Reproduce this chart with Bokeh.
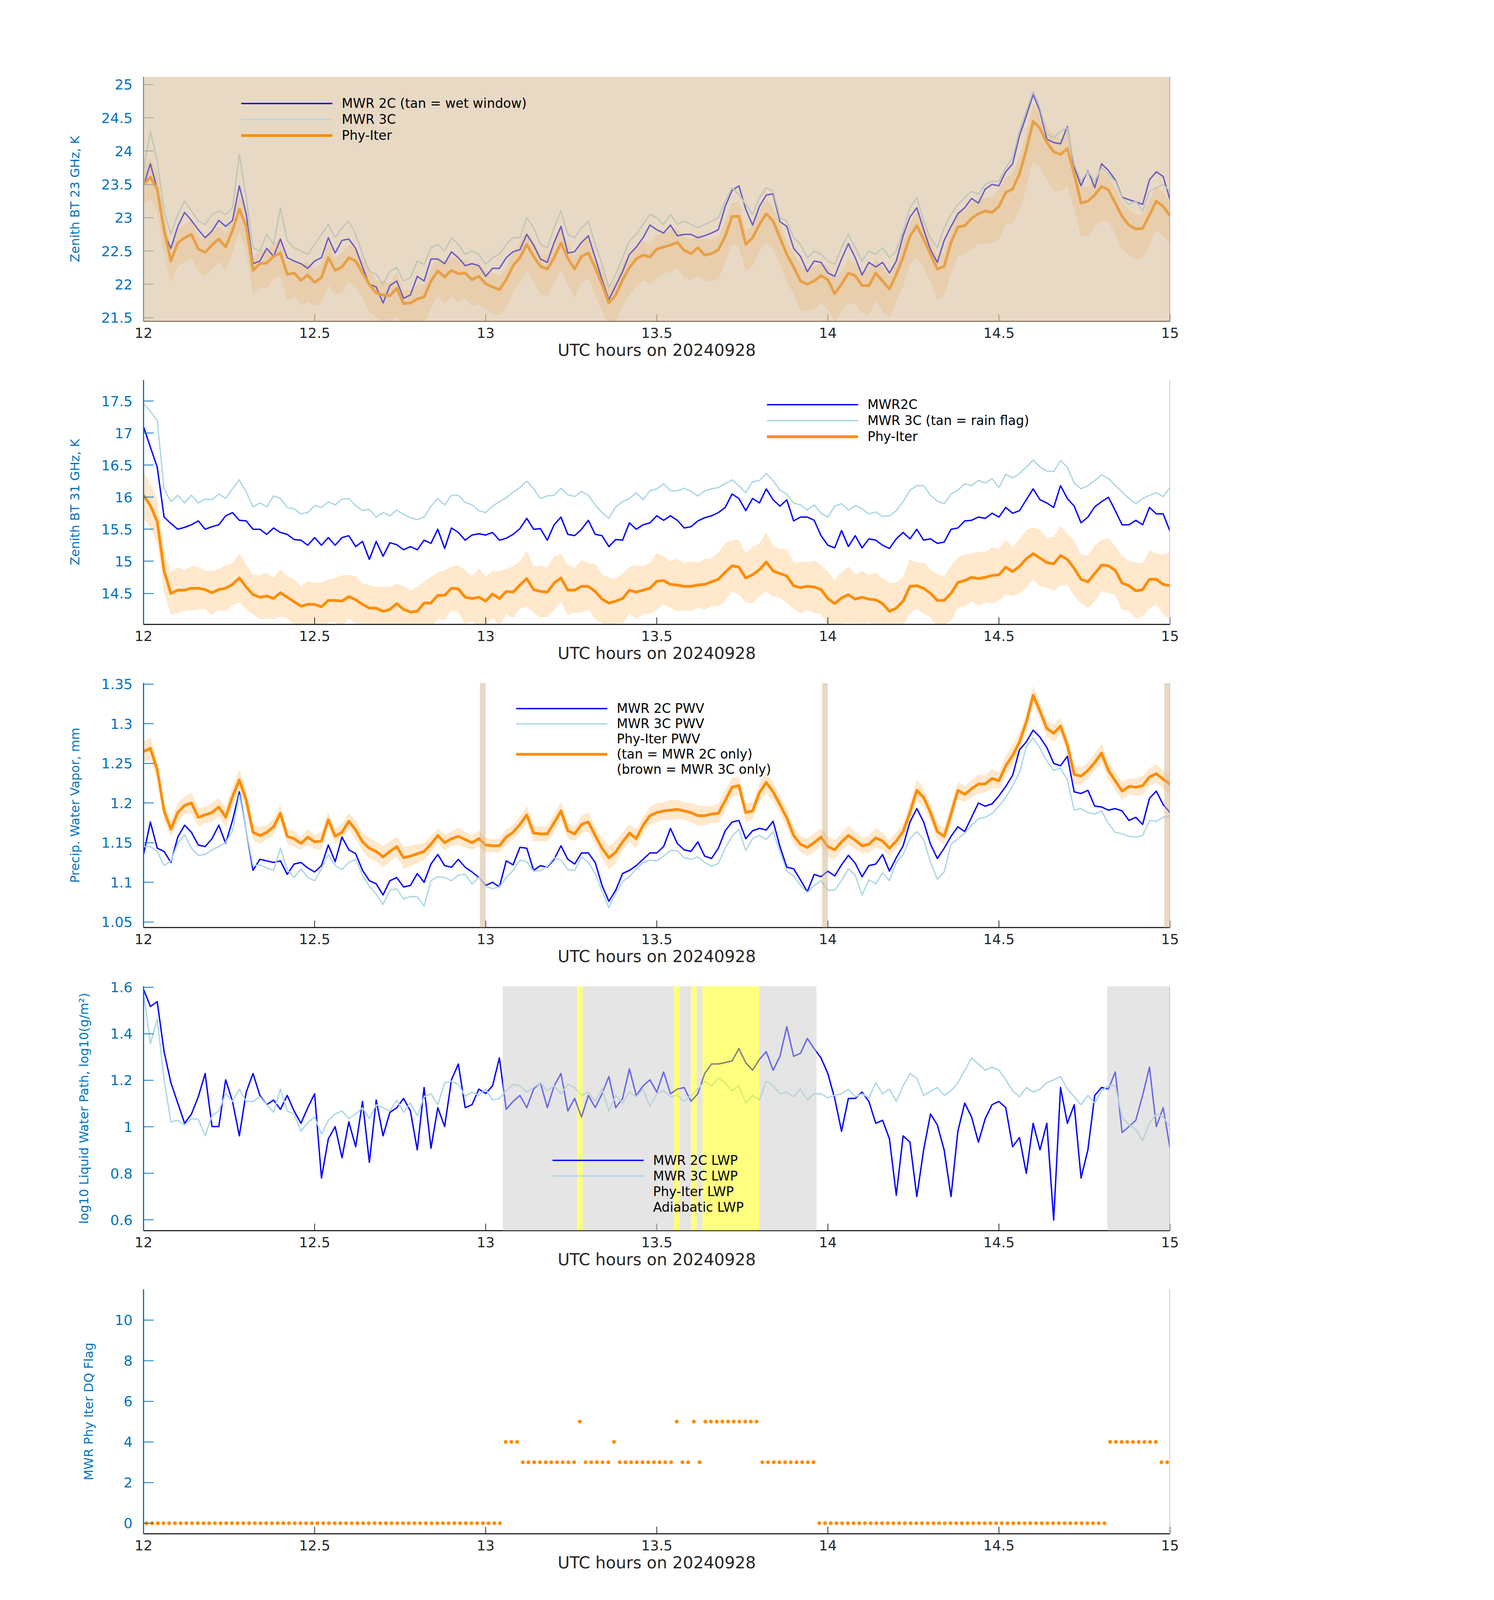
import numpy as np
from bokeh.plotting import figure
from bokeh.models import (Range1d, FixedTicker, BoxAnnotation, Span, Legend, LegendItem,
                          NumeralTickFormatter)
from bokeh.layouts import column
from bokeh.embed import file_html
from bokeh.resources import INLINE

# ---------------- data ----------------
# common sampling axis, UTC hours (1.2-minute samples)
t = np.linspace(12.0, 15.0, 151)

# Panel 1: zenith BT 23 GHz, K
bt23_mwr2c = [23.48,23.81,23.43,22.77,22.54,22.87,23.08,22.96,22.82,22.70,
 22.80,22.96,22.87,22.96,23.48,23.06,22.31,22.35,22.54,22.42,
 22.68,22.40,22.35,22.31,22.24,22.35,22.40,22.70,22.47,22.66,
 22.68,22.54,22.26,22.00,21.96,21.72,21.98,22.05,21.79,21.84,
 22.12,22.05,22.38,22.38,22.31,22.49,22.40,22.28,22.31,22.28,
 22.12,22.24,22.24,22.40,22.49,22.52,22.75,22.59,22.38,22.33,
 22.63,22.87,22.47,22.49,22.63,22.73,22.40,22.07,21.77,21.98,
 22.19,22.45,22.56,22.70,22.89,22.82,22.77,22.89,22.73,22.75,
 22.75,22.70,22.73,22.77,22.82,23.17,23.41,23.48,23.13,22.89,
 23.17,23.34,23.36,22.94,22.87,22.54,22.42,22.19,22.35,22.33,
 22.17,22.12,22.38,22.61,22.40,22.14,22.33,22.26,22.33,22.17,
 22.35,22.73,23.01,23.15,22.82,22.52,22.33,22.66,22.87,23.06,
 23.15,23.29,23.22,23.43,23.50,23.48,23.69,23.81,24.23,24.53,
 24.85,24.60,24.18,24.13,24.11,24.37,23.76,23.48,23.71,23.45,
 23.81,23.71,23.57,23.31,23.27,23.24,23.20,23.57,23.69,23.62,
 23.27]
bt23_mwr3c = [23.70,24.30,23.85,23.10,22.75,23.05,23.25,23.10,22.95,22.90,
 23.05,23.10,23.05,23.15,23.95,23.30,22.55,22.50,22.75,22.60,
 23.15,22.65,22.55,22.50,22.45,22.60,22.75,22.90,22.70,22.85,
 22.95,22.75,22.45,22.20,22.15,22.00,22.20,22.25,22.05,22.10,
 22.35,22.30,22.55,22.60,22.50,22.70,22.60,22.45,22.50,22.45,
 22.30,22.40,22.45,22.60,22.70,22.70,23.00,22.85,22.60,22.55,
 22.85,23.10,22.75,22.70,22.85,22.95,22.60,22.30,21.95,22.15,
 22.40,22.65,22.75,22.90,23.05,23.00,22.90,23.05,22.90,22.95,
 22.90,22.85,22.90,22.95,23.00,23.25,23.45,23.35,23.20,23.05,
 23.30,23.45,23.40,23.00,22.95,22.70,22.60,22.40,22.50,22.45,
 22.35,22.30,22.55,22.75,22.55,22.35,22.50,22.45,22.55,22.40,
 22.50,22.80,23.15,23.30,22.95,22.70,22.55,22.85,23.05,23.20,
 23.30,23.40,23.35,23.50,23.55,23.55,23.75,23.90,24.30,24.60,
 24.90,24.65,24.25,24.20,24.30,24.35,23.80,23.55,23.70,23.55,
 23.75,23.65,23.55,23.30,23.20,23.25,23.10,23.40,23.45,23.50,
 23.40]
bt23_phy = [23.50,23.61,23.43,22.82,22.35,22.62,22.70,22.75,22.53,22.48,
 22.59,22.68,22.56,22.81,23.13,22.87,22.21,22.31,22.32,22.42,
 22.47,22.15,22.17,22.06,22.14,22.03,22.10,22.40,22.21,22.26,
 22.40,22.35,22.17,22.00,21.87,21.84,21.83,21.94,21.71,21.72,
 21.78,21.81,22.05,22.20,22.11,22.21,22.16,22.17,22.07,22.12,
 22.01,21.96,21.92,22.07,22.28,22.40,22.60,22.42,22.27,22.23,
 22.40,22.62,22.39,22.23,22.42,22.47,22.25,22.00,21.72,21.84,
 22.07,22.25,22.38,22.44,22.41,22.53,22.56,22.59,22.63,22.51,
 22.46,22.55,22.44,22.46,22.52,22.72,23.02,23.02,22.60,22.70,
 22.90,23.06,22.95,22.70,22.45,22.26,22.05,22.00,22.05,22.13,
 22.07,21.86,22.00,22.17,22.13,21.98,21.98,22.17,22.05,21.93,
 22.15,22.41,22.72,22.88,22.68,22.45,22.23,22.27,22.63,22.86,
 22.88,22.99,23.06,23.10,23.08,23.17,23.38,23.43,23.66,24.02,
 24.45,24.34,24.13,23.99,23.95,24.04,23.66,23.22,23.25,23.34,
 23.47,23.42,23.22,23.02,22.89,22.83,22.84,23.04,23.25,23.17,
 23.03]
bt23_phy_err_lo = [0.30,0.32,0.35,0.36,0.34,0.35,0.38,0.36,0.33,0.35,
 0.37,0.34,0.36,0.33,0.35,0.38,0.35,0.36,0.38,0.34,
 0.36,0.39,0.35,0.37,0.40,0.36,0.38,0.41,0.37,0.39,
 0.36,0.40,0.38,0.42,0.37,0.40,0.38,0.41,0.39,0.43,
 0.38,0.40,0.42,0.37,0.41,0.39,0.43,0.38,0.40,0.42,
 0.39,0.41,0.38,0.42,0.40,0.37,0.41,0.39,0.43,0.40,
 0.38,0.41,0.39,0.42,0.40,0.38,0.42,0.40,0.37,0.41,
 0.39,0.42,0.40,0.38,0.41,0.43,0.39,0.41,0.38,0.42,
 0.40,0.43,0.39,0.41,0.44,0.40,0.42,0.45,0.41,0.43,
 0.40,0.44,0.42,0.39,0.43,0.41,0.45,0.40,0.43,0.41,
 0.44,0.42,0.40,0.45,0.43,0.41,0.44,0.42,0.46,0.43,
 0.41,0.45,0.43,0.47,0.44,0.42,0.46,0.44,0.48,0.45,
 0.43,0.47,0.45,0.49,0.46,0.50,0.48,0.52,0.55,0.57,
 0.60,0.58,0.56,0.59,0.55,0.57,0.53,0.50,0.52,0.49,
 0.51,0.48,0.46,0.49,0.45,0.47,0.44,0.46,0.43,0.45,
 0.42]
bt23_phy_err_hi = [0.25,0.28,0.24,0.22,0.20,0.22,0.19,0.21,0.18,0.20,
 0.22,0.19,0.21,0.18,0.20,0.23,0.19,0.21,0.18,0.20,
 0.22,0.19,0.21,0.24,0.20,0.18,0.21,0.23,0.19,0.22,
 0.20,0.18,0.21,0.23,0.19,0.22,0.20,0.24,0.21,0.19,
 0.22,0.20,0.18,0.21,0.23,0.19,0.22,0.20,0.24,0.21,
 0.19,0.22,0.20,0.18,0.21,0.23,0.20,0.22,0.19,0.21,
 0.23,0.20,0.22,0.19,0.21,0.24,0.20,0.22,0.19,0.21,
 0.23,0.20,0.18,0.21,0.19,0.22,0.20,0.23,0.21,0.19,
 0.22,0.20,0.24,0.21,0.19,0.22,0.20,0.23,0.21,0.18,
 0.21,0.23,0.20,0.22,0.19,0.21,0.24,0.20,0.22,0.19,
 0.21,0.23,0.20,0.22,0.19,0.21,0.24,0.20,0.22,0.19,
 0.21,0.23,0.20,0.22,0.24,0.21,0.19,0.22,0.20,0.23,
 0.21,0.24,0.22,0.20,0.23,0.25,0.22,0.24,0.26,0.25,
 0.27,0.25,0.24,0.26,0.23,0.25,0.22,0.24,0.21,0.23,
 0.22,0.20,0.23,0.21,0.24,0.22,0.20,0.23,0.21,0.22,
 0.20]

# Panel 2: zenith BT 31 GHz, K
bt31_mwr2c = [17.10,16.78,16.47,15.69,15.59,15.50,15.53,15.57,15.63,15.50,
 15.54,15.57,15.71,15.76,15.64,15.63,15.50,15.50,15.42,15.52,
 15.45,15.42,15.34,15.33,15.25,15.37,15.25,15.37,15.25,15.37,
 15.40,15.23,15.31,15.03,15.31,15.08,15.29,15.26,15.18,15.23,
 15.18,15.33,15.28,15.50,15.20,15.52,15.45,15.33,15.41,15.43,
 15.41,15.45,15.33,15.36,15.42,15.51,15.67,15.50,15.51,15.33,
 15.57,15.69,15.42,15.40,15.50,15.64,15.42,15.40,15.23,15.34,
 15.33,15.60,15.50,15.57,15.60,15.71,15.64,15.71,15.64,15.52,
 15.54,15.63,15.68,15.71,15.76,15.84,16.05,15.98,15.79,15.98,
 15.91,16.13,15.96,15.86,15.96,15.63,15.69,15.69,15.64,15.40,
 15.25,15.21,15.48,15.23,15.40,15.21,15.35,15.33,15.25,15.20,
 15.35,15.45,15.35,15.50,15.33,15.35,15.28,15.30,15.50,15.52,
 15.63,15.64,15.69,15.67,15.75,15.69,15.84,15.75,15.79,15.96,
 16.13,15.96,15.91,15.84,16.18,15.98,15.86,15.60,15.69,15.85,
 15.93,16.00,15.79,15.57,15.57,15.64,15.57,15.84,15.74,15.74,
 15.47]
bt31_mwr3c = [17.46,17.34,17.20,16.13,15.93,16.03,15.91,16.03,15.91,15.97,
 15.96,16.05,15.98,16.13,16.27,16.08,15.85,15.91,15.85,16.02,
 15.98,15.84,15.82,15.74,15.76,15.87,15.84,15.93,15.88,15.97,
 15.98,15.87,15.79,15.81,15.69,15.76,15.71,15.80,15.73,15.68,
 15.65,15.69,15.86,15.98,15.88,16.03,16.03,15.92,15.88,15.79,
 15.76,15.86,15.93,15.99,16.08,16.15,16.25,16.13,15.98,16.02,
 16.03,16.14,16.04,16.01,16.09,16.03,15.88,15.76,15.67,15.85,
 15.93,15.98,16.07,15.96,16.10,16.13,16.21,16.10,16.10,16.14,
 16.09,16.02,16.10,16.13,16.15,16.21,16.27,16.18,16.07,16.24,
 16.26,16.37,16.26,16.11,16.05,15.91,15.88,15.80,15.88,15.75,
 15.69,15.86,15.90,15.80,15.87,15.82,15.74,15.77,15.70,15.71,
 15.79,15.93,16.11,16.18,16.18,16.03,15.94,15.90,16.05,16.11,
 16.21,16.18,16.26,16.22,16.29,16.15,16.36,16.30,16.37,16.47,
 16.58,16.47,16.41,16.40,16.57,16.47,16.22,16.13,16.18,16.26,
 16.35,16.29,16.18,16.08,15.98,15.90,15.98,16.03,16.07,16.01,
 16.15]
bt31_phy = [16.03,15.87,15.62,14.85,14.50,14.55,14.55,14.58,14.58,14.56,
 14.51,14.56,14.58,14.64,14.74,14.60,14.48,14.44,14.46,14.42,
 14.51,14.44,14.37,14.30,14.33,14.33,14.29,14.39,14.39,14.38,
 14.45,14.40,14.33,14.27,14.27,14.22,14.25,14.34,14.25,14.21,
 14.22,14.35,14.35,14.47,14.47,14.58,14.57,14.44,14.42,14.44,
 14.38,14.49,14.42,14.53,14.52,14.63,14.73,14.56,14.53,14.52,
 14.66,14.74,14.55,14.55,14.61,14.61,14.53,14.41,14.35,14.38,
 14.42,14.55,14.52,14.55,14.58,14.69,14.70,14.64,14.63,14.61,
 14.61,14.63,14.64,14.68,14.72,14.83,14.93,14.91,14.74,14.79,
 14.87,14.99,14.85,14.81,14.77,14.62,14.59,14.61,14.60,14.56,
 14.42,14.34,14.43,14.48,14.41,14.44,14.41,14.40,14.34,14.22,
 14.27,14.38,14.61,14.62,14.58,14.50,14.39,14.39,14.50,14.67,
 14.70,14.75,14.73,14.75,14.78,14.79,14.91,14.84,14.92,15.04,
 15.12,15.05,14.98,14.96,15.09,15.03,14.89,14.72,14.68,14.81,
 14.94,14.93,14.86,14.66,14.62,14.54,14.56,14.72,14.72,14.64,
 14.62]
bt31_phy_err = [0.36,0.35,0.33,0.34,0.33,0.36,0.31,0.35,0.33,0.30,
 0.34,0.32,0.36,0.33,0.38,0.35,0.31,0.34,0.36,0.32,
 0.37,0.33,0.35,0.31,0.36,0.34,0.38,0.33,0.35,0.40,
 0.34,0.37,0.32,0.36,0.33,0.39,0.35,0.31,0.36,0.34,
 0.38,0.33,0.41,0.36,0.39,0.34,0.37,0.42,0.35,0.45,
 0.38,0.36,0.43,0.35,0.40,0.37,0.44,0.36,0.41,0.38,
 0.42,0.37,0.39,0.35,0.41,0.36,0.43,0.38,0.40,0.35,
 0.39,0.36,0.42,0.37,0.40,0.44,0.38,0.36,0.41,0.37,
 0.39,0.35,0.40,0.37,0.42,0.45,0.40,0.43,0.38,0.44,
 0.41,0.46,0.40,0.38,0.42,0.36,0.40,0.37,0.41,0.38,
 0.42,0.37,0.40,0.44,0.38,0.41,0.37,0.43,0.39,0.45,
 0.40,0.38,0.42,0.36,0.40,0.37,0.41,0.38,0.43,0.39,
 0.41,0.37,0.42,0.39,0.44,0.40,0.43,0.38,0.42,0.45,
 0.41,0.44,0.39,0.42,0.46,0.40,0.43,0.38,0.41,0.44,
 0.40,0.43,0.38,0.42,0.39,0.44,0.41,0.45,0.40,0.47,
 0.52]

# Panel 3: precipitable water vapour, mm
pwv_mwr2c = [1.135,1.176,1.143,1.139,1.125,1.157,1.172,1.163,1.147,1.145,
 1.155,1.172,1.149,1.178,1.214,1.165,1.115,1.129,1.127,1.125,
 1.127,1.110,1.123,1.125,1.118,1.113,1.121,1.147,1.126,1.157,
 1.141,1.136,1.115,1.102,1.098,1.084,1.102,1.106,1.094,1.096,
 1.111,1.100,1.123,1.135,1.121,1.119,1.129,1.119,1.113,1.106,
 1.096,1.100,1.094,1.127,1.122,1.144,1.143,1.115,1.121,1.119,
 1.129,1.146,1.129,1.123,1.137,1.137,1.125,1.096,1.076,1.090,
 1.111,1.115,1.121,1.129,1.137,1.137,1.145,1.168,1.149,1.141,
 1.139,1.151,1.133,1.130,1.143,1.165,1.176,1.178,1.155,1.165,
 1.168,1.166,1.177,1.145,1.119,1.117,1.103,1.088,1.110,1.107,
 1.114,1.108,1.122,1.134,1.124,1.107,1.121,1.123,1.135,1.114,
 1.131,1.146,1.176,1.193,1.176,1.148,1.130,1.143,1.158,1.170,
 1.164,1.182,1.200,1.196,1.199,1.209,1.221,1.235,1.267,1.277,
 1.292,1.283,1.270,1.250,1.247,1.259,1.214,1.212,1.216,1.196,
 1.195,1.191,1.193,1.190,1.178,1.182,1.173,1.206,1.215,1.198,
 1.188]
pwv_mwr3c = [1.145,1.145,1.139,1.121,1.127,1.149,1.160,1.143,1.134,1.135,
 1.141,1.145,1.150,1.165,1.210,1.165,1.121,1.122,1.118,1.115,
 1.143,1.116,1.106,1.117,1.106,1.102,1.117,1.135,1.121,1.116,
 1.125,1.129,1.109,1.095,1.085,1.072,1.090,1.092,1.079,1.082,
 1.082,1.070,1.102,1.107,1.106,1.102,1.109,1.110,1.098,1.106,
 1.095,1.092,1.094,1.106,1.115,1.128,1.126,1.114,1.115,1.120,
 1.131,1.128,1.116,1.115,1.132,1.125,1.111,1.089,1.068,1.086,
 1.101,1.107,1.117,1.125,1.128,1.127,1.133,1.140,1.140,1.131,
 1.129,1.132,1.125,1.120,1.124,1.143,1.158,1.167,1.140,1.155,
 1.159,1.154,1.164,1.139,1.114,1.108,1.096,1.087,1.096,1.102,
 1.090,1.090,1.102,1.117,1.109,1.084,1.103,1.098,1.112,1.102,
 1.125,1.135,1.155,1.164,1.154,1.125,1.104,1.113,1.148,1.155,
 1.162,1.172,1.180,1.182,1.187,1.196,1.207,1.222,1.238,1.271,
 1.282,1.269,1.253,1.241,1.244,1.229,1.191,1.193,1.188,1.186,
 1.190,1.174,1.163,1.161,1.158,1.157,1.159,1.178,1.177,1.182,
 1.184]
pwv_phy = [1.265,1.269,1.242,1.190,1.167,1.188,1.197,1.200,1.182,1.185,
 1.188,1.195,1.182,1.208,1.229,1.204,1.163,1.159,1.163,1.170,
 1.187,1.158,1.155,1.149,1.157,1.151,1.152,1.179,1.158,1.163,
 1.177,1.166,1.151,1.143,1.139,1.132,1.139,1.145,1.131,1.133,
 1.136,1.139,1.148,1.159,1.150,1.155,1.158,1.154,1.150,1.155,
 1.147,1.146,1.146,1.157,1.163,1.173,1.185,1.162,1.161,1.161,
 1.175,1.190,1.165,1.161,1.173,1.176,1.159,1.143,1.131,1.138,
 1.151,1.162,1.155,1.172,1.184,1.188,1.190,1.191,1.192,1.190,
 1.188,1.184,1.184,1.186,1.187,1.203,1.220,1.222,1.188,1.190,
 1.213,1.226,1.214,1.198,1.181,1.159,1.148,1.144,1.150,1.157,
 1.145,1.141,1.151,1.159,1.153,1.146,1.148,1.156,1.152,1.143,
 1.152,1.164,1.188,1.216,1.207,1.188,1.164,1.158,1.186,1.216,
 1.211,1.218,1.224,1.224,1.231,1.228,1.247,1.260,1.277,1.302,
 1.336,1.316,1.294,1.288,1.297,1.273,1.236,1.234,1.241,1.251,
 1.263,1.241,1.228,1.215,1.221,1.220,1.222,1.233,1.237,1.230,
 1.224]
pwv_phy_err = [0.013,0.014,0.012,0.011,0.010,0.012,0.011,0.013,0.012,0.010,
 0.012,0.011,0.013,0.012,0.014,0.012,0.010,0.011,0.009,0.010,
 0.011,0.009,0.010,0.008,0.010,0.009,0.011,0.010,0.009,0.011,
 0.010,0.012,0.011,0.013,0.012,0.014,0.013,0.012,0.014,0.013,
 0.012,0.011,0.010,0.009,0.010,0.009,0.011,0.010,0.009,0.010,
 0.009,0.008,0.009,0.010,0.009,0.010,0.011,0.010,0.009,0.010,
 0.011,0.012,0.010,0.009,0.011,0.012,0.011,0.013,0.015,0.014,
 0.012,0.011,0.012,0.010,0.011,0.012,0.011,0.013,0.012,0.011,
 0.012,0.013,0.012,0.011,0.012,0.013,0.012,0.011,0.012,0.011,
 0.012,0.013,0.012,0.011,0.012,0.011,0.010,0.011,0.012,0.011,
 0.013,0.012,0.011,0.012,0.011,0.010,0.011,0.012,0.011,0.010,
 0.011,0.010,0.012,0.013,0.012,0.011,0.010,0.011,0.012,0.011,
 0.010,0.011,0.012,0.011,0.012,0.011,0.012,0.013,0.012,0.011,
 0.012,0.011,0.010,0.011,0.010,0.011,0.012,0.011,0.010,0.011,
 0.012,0.011,0.012,0.011,0.010,0.011,0.012,0.011,0.012,0.011,
 0.012]

# Panel 4: log10 liquid water path
lwp_mwr2c = [1.591,1.517,1.538,1.323,1.189,1.102,1.015,1.055,1.129,1.229,
 1.001,1.001,1.202,1.109,0.961,1.149,1.229,1.135,1.095,1.115,
 1.075,1.135,1.068,1.015,1.082,1.142,0.780,0.948,1.001,0.867,
 1.021,0.914,1.109,0.847,1.115,0.961,1.062,1.082,1.122,1.068,
 0.901,1.169,0.908,1.082,1.001,1.202,1.270,1.082,1.095,1.162,
 1.143,1.176,1.296,1.075,1.109,1.135,1.082,1.162,1.189,1.082,
 1.176,1.229,1.068,1.122,1.042,1.135,1.082,1.142,1.216,1.082,
 1.122,1.249,1.135,1.176,1.202,1.149,1.236,1.142,1.162,1.169,
 1.109,1.142,1.229,1.270,1.270,1.276,1.283,1.336,1.276,1.243,
 1.290,1.323,1.243,1.303,1.430,1.303,1.316,1.380,1.336,1.296,
 1.229,1.122,0.981,1.122,1.122,1.149,1.109,1.015,1.028,0.948,
 0.706,0.961,0.934,0.700,0.901,1.055,1.008,0.900,0.700,0.981,
 1.102,1.042,0.934,1.035,1.095,1.109,1.082,0.914,0.954,0.800,
 1.015,0.901,1.015,0.599,1.169,1.015,1.095,0.780,0.901,1.135,
 1.169,1.162,1.236,0.975,1.001,1.028,1.135,1.256,1.001,1.082,
 0.908]
lwp_mwr3c = [1.578,1.357,1.464,1.202,1.021,1.028,1.008,1.035,1.032,0.961,
 1.048,1.068,1.142,1.109,1.162,1.109,1.109,1.129,1.095,1.062,
 1.162,1.068,1.055,0.981,1.018,1.042,0.968,1.028,1.055,1.068,
 1.035,1.055,1.082,1.035,1.095,1.082,1.068,1.115,1.062,1.102,
 1.048,1.129,1.142,1.095,1.189,1.196,1.182,1.132,1.149,1.135,
 1.162,1.115,1.122,1.155,1.182,1.176,1.149,1.169,1.189,1.155,
 1.176,1.142,1.182,1.169,1.135,1.149,1.109,1.162,1.068,1.135,
 1.102,1.149,1.129,1.162,1.088,1.142,1.155,1.129,1.135,1.109,
 1.135,1.162,1.196,1.176,1.209,1.189,1.155,1.176,1.102,1.135,
 1.115,1.196,1.176,1.142,1.149,1.129,1.162,1.115,1.142,1.142,
 1.125,1.135,1.142,1.162,1.129,1.142,1.125,1.189,1.142,1.162,
 1.109,1.176,1.229,1.209,1.135,1.152,1.169,1.135,1.155,1.189,
 1.243,1.296,1.270,1.243,1.256,1.243,1.202,1.155,1.129,1.169,
 1.149,1.162,1.189,1.202,1.216,1.162,1.129,1.095,1.135,1.102,
 1.155,1.176,1.176,1.042,1.008,0.988,0.941,1.015,1.055,1.042,
 1.001]

# Panel 5: MWR Phy-Iter data-quality flag, 1-minute samples
flag_t = 12.0 + (np.arange(181) + 0.5) / 60.0
dq_flag = ([0] * 63 + [4] * 3 + [3] * 10 + [5] + [3] * 5 + [4] + [3] * 10 + [5]
           + [3] * 2 + [5] + [3] + [5] * 10 + [3] * 10 + [0] * 51 + [4] * 9 + [3] * 3)

# shaded periods (UTC hours)
wet_window = [(12.0, 15.0)]
mwr2c_only = [(12.983, 13.0), (13.983, 14.0), (14.983, 15.0)]

x_ticks = [12, 12.5, 13, 13.5, 14, 14.5, 15]

# ---------------- styling ----------------
FONT = "DejaVu Sans"
AX_BLUE = "#0072BD"
DARK = "#262626"
C2 = "#0000FF"
C3 = "#ADD8E6"
ORG = "#FF8C00"
TAN = "#D2B48C"
FRAME_H = 626
LW = 3.5
LW_PHY = 7


def make_fig(yr, yticks, ylabel, top, tinted=False):
    p = figure(frame_width=2628, frame_height=FRAME_H, x_range=Range1d(12, 15),
               y_range=Range1d(*yr), output_backend="svg", toolbar_location=None,
               min_border_left=367, min_border_right=800, min_border_top=top,
               min_border_bottom=118)
    p.outline_line_color = None
    p.grid.visible = False
    ycol = "#6993A5" if tinted else AX_BLUE
    xcol = "#7C6D59" if tinted else DARK
    xa, ya = p.xaxis[0], p.yaxis[0]
    for a in (xa, ya):
        a.major_tick_out = 0
        a.minor_tick_line_color = None
        a.axis_line_width = 3
        a.major_tick_line_width = 2
        a.major_label_text_font = FONT
        a.major_label_text_font_size = "36px"
        a.axis_label_text_font = FONT
        a.axis_label_text_font_style = "normal"
        a.formatter = NumeralTickFormatter(format="0.[00]")
    xa.major_tick_in = 18
    ya.major_tick_in = 26
    xa.ticker = FixedTicker(ticks=x_ticks)
    xa.axis_line_color = xcol
    xa.major_tick_line_color = xcol
    xa.major_label_text_color = DARK
    xa.axis_label_text_color = DARK
    xa.axis_label = "UTC hours on 20240928"
    xa.axis_label_text_font_size = "42px"
    xa.major_label_standoff = 16
    xa.axis_label_standoff = 4
    ya.ticker = FixedTicker(ticks=yticks)
    ya.axis_line_color = ycol
    ya.major_tick_line_color = ycol
    ya.major_label_text_color = AX_BLUE
    ya.axis_label_text_color = AX_BLUE
    ya.axis_label = ylabel
    ya.axis_label_text_font_size = "32px"
    ya.major_label_standoff = 28
    ya.axis_label_standoff = 45
    return p


def right_edge(p, color):
    p.add_layout(Span(location=15, dimension="height", line_color=color, line_width=3))


def add_legend(p, items, loc, gh):
    leg = Legend(items=[LegendItem(label=l, renderers=[r]) for l, r in items],
                 location=loc, orientation="vertical", border_line_color=None,
                 background_fill_alpha=0, padding=0, margin=0, spacing=0,
                 glyph_width=234, glyph_height=gh, label_height=gh, label_standoff=24,
                 label_text_font=FONT, label_text_font_size="33px",
                 label_text_color="black")
    p.add_layout(leg, "center")


def runs(times, flags, wanted):
    out, start, end = [], None, None
    half = 1.0 / 120.0
    for tt, f in zip(times, flags):
        if f in wanted:
            if start is None:
                start = tt - half
            end = tt + half
        elif start is not None:
            out.append((start, end))
            start = None
    if start is not None:
        out.append((start, end))
    return out


# ---- panel 1 ----
p1 = make_fig((21.445, 25.117), [21.5, 22, 22.5, 23, 23.5, 24, 24.5, 25],
              "Zenith BT 23 GHz, K", 196, tinted=True)
ph = np.array(bt23_phy)
p1.varea(x=t, y1=ph - np.array(bt23_phy_err_lo), y2=ph + np.array(bt23_phy_err_hi),
         fill_color=ORG, fill_alpha=0.2)
r12 = p1.line(t, bt23_mwr2c, line_color=C2, line_width=LW, line_join="round")
r13 = p1.line(t, bt23_mwr3c, line_color=C3, line_width=LW, line_join="round")
r1p = p1.line(t, bt23_phy, line_color=ORG, line_width=LW_PHY, line_join="round")
for a, b in wet_window:
    p1.add_layout(BoxAnnotation(left=a, right=b, fill_color=TAN, fill_alpha=0.5,
                                line_color=None))
right_edge(p1, "#7F9AA8")
add_legend(p1, [("MWR 2C (tan = wet window)", r12), ("MWR 3C", r13), ("Phy-Iter", r1p)],
           (250, 455), 41)

# ---- panel 2 ----
p2 = make_fig((14.016, 17.83), [14.5, 15, 15.5, 16, 16.5, 17, 17.5],
              "Zenith BT 31 GHz, K", 32)
ph = np.array(bt31_phy)
er = np.array(bt31_phy_err)
p2.varea(x=t, y1=ph - er, y2=ph + er, fill_color=ORG, fill_alpha=0.2)
r22 = p2.line(t, bt31_mwr2c, line_color=C2, line_width=LW, line_join="round")
r23 = p2.line(t, bt31_mwr3c, line_color=C3, line_width=LW, line_join="round")
r2p = p2.line(t, bt31_phy, line_color=ORG, line_width=LW_PHY, line_join="round")
right_edge(p2, "#A9C3D6")
add_legend(p2, [("MWR2C", r22), ("MWR 3C (tan = rain flag)", r23), ("Phy-Iter", r2p)],
           (1596, 460), 41)

# ---- panel 3 ----
p3 = make_fig((1.0429, 1.3514), [1.05, 1.1, 1.15, 1.2, 1.25, 1.3, 1.35],
              "Precip. Water Vapor, mm", 32)
ph = np.array(pwv_phy)
er = np.array(pwv_phy_err)
p3.varea(x=t, y1=ph - er, y2=ph + er, fill_color=ORG, fill_alpha=0.2)
r32 = p3.line(t, pwv_mwr2c, line_color=C2, line_width=LW, line_join="round")
r33 = p3.line(t, pwv_mwr3c, line_color=C3, line_width=LW, line_join="round")
r3p = p3.line(t, pwv_phy, line_color=ORG, line_width=LW_PHY, line_join="round")
r3n1 = p3.line(x=[], y=[], line_alpha=0)
r3n2 = p3.line(x=[], y=[], line_alpha=0)
for a, b in mwr2c_only:
    p3.add_layout(BoxAnnotation(left=a, right=b, fill_color=TAN, fill_alpha=0.5,
                                line_color=None))
right_edge(p3, "#A9C3D6")
add_legend(p3, [("MWR 2C PWV", r32), ("MWR 3C PWV", r33), ("Phy-Iter PWV", r3n1),
                ("(tan = MWR 2C only)", r3p), ("(brown = MWR 3C only)", r3n2)],
           (954, 385), 39)

# ---- panel 4 ----
p4 = make_fig((0.5536, 1.6046), [0.6, 0.8, 1.0, 1.2, 1.4, 1.6],
              "log10 Liquid Water Path, log10(g/m\u00b2)", 32)
r42 = p4.line(t, lwp_mwr2c, line_color=C2, line_width=LW, line_join="round")
r43 = p4.line(t, lwp_mwr3c, line_color=C3, line_width=LW, line_join="round")
r4p = p4.line(x=[], y=[], line_color=ORG, line_width=LW_PHY)
r4a = p4.line(x=[], y=[], line_color="#800080", line_width=5)
for a, b in runs(flag_t, dq_flag, (3, 4)):
    p4.add_layout(BoxAnnotation(left=a, right=b, fill_color="#CCCCCC", fill_alpha=0.5,
                                line_color=None))
for a, b in runs(flag_t, dq_flag, (5,)):
    p4.add_layout(BoxAnnotation(left=a, right=b, fill_color="#FFFF00", fill_alpha=0.5,
                                line_color=None))
right_edge(p4, "#B5BEC6")
add_legend(p4, [("MWR 2C LWP", r42), ("MWR 3C LWP", r43), ("Phy-Iter LWP", r4p),
                ("Adiabatic LWP", r4a)], (1047, 40), 40)

# ---- panel 5 ----
p5 = make_fig((-0.52, 11.51), [0, 2, 4, 6, 8, 10], "MWR Phy Iter DQ Flag", 32)
p5.scatter(flag_t, dq_flag, marker="circle", size=9, fill_color=ORG, line_color=ORG)
right_edge(p5, "#B5BEC6")

layout = column(p1, p2, p3, p4, p5, spacing=0)
open("out.html", "w").write(file_html(layout, INLINE))
